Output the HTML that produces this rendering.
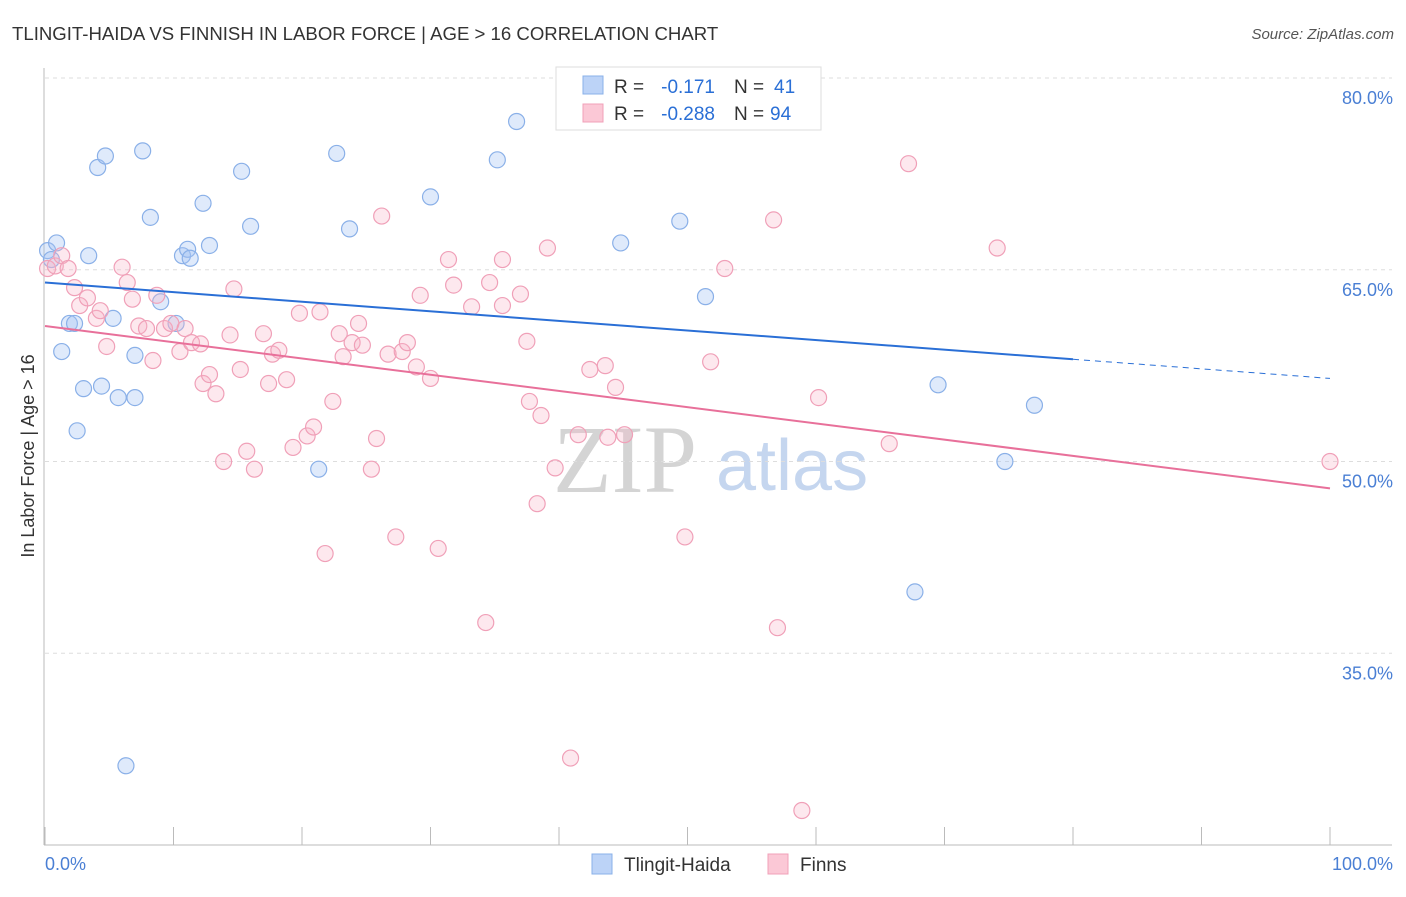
<!DOCTYPE html>
<html><head><meta charset="utf-8"><style>
body{margin:0;background:#fff;font-family:"Liberation Sans",sans-serif;}
</style></head><body>
<svg width="1406" height="892" xmlns="http://www.w3.org/2000/svg" font-family="Liberation Sans, sans-serif">
<text x="12" y="40" font-size="18.6" fill="#333">TLINGIT-HAIDA VS FINNISH IN LABOR FORCE | AGE &gt; 16 CORRELATION CHART</text>
<text x="1394" y="39" font-size="15" fill="#555" text-anchor="end" font-style="italic">Source: ZipAtlas.com</text>
<text x="553" y="492" font-size="96" fill="#d4d4d4" font-family="Liberation Serif, serif">ZIP</text>
<text x="716" y="490" font-size="72" fill="#c5d6ef">atlas</text>
<g id="grid"></g>
<g id="axes"></g>
<g id="pts"></g>
<g id="lines"></g>
<text transform="translate(34,456) rotate(-90)" font-size="18" fill="#333" text-anchor="middle">In Labor Force | Age &gt; 16</text>
<text x="45" y="870" font-size="18" fill="#4a7fd4">0.0%</text>
<text x="1393" y="870" font-size="18" fill="#4a7fd4" text-anchor="end">100.0%</text>
<g>
<rect x="556" y="67" width="265" height="63" fill="#fff" stroke="#ddd"/>
<rect x="583" y="76" width="20" height="18" fill="#bcd3f7" stroke="#8ab0e8"/>
<rect x="583" y="104" width="20" height="18" fill="#fbc8d6" stroke="#f0a0b8"/>
<text x="614" y="93" font-size="19" fill="#333">R =</text>
<text x="715" y="93" font-size="19" fill="#2a6fd6" text-anchor="end">-0.171</text>
<text x="734" y="93" font-size="19" fill="#333">N =</text>
<text x="774" y="93" font-size="19" fill="#2a6fd6">41</text>
<text x="614" y="120" font-size="19" fill="#333">R =</text>
<text x="715" y="120" font-size="19" fill="#2a6fd6" text-anchor="end">-0.288</text>
<text x="734" y="120" font-size="19" fill="#333">N =</text>
<text x="770" y="120" font-size="19" fill="#2a6fd6">94</text>
</g>
<g>
<rect x="592" y="854" width="20" height="20" fill="#bcd3f7" stroke="#8ab0e8"/>
<text x="624" y="871" font-size="19" fill="#333">Tlingit-Haida</text>
<rect x="768" y="854" width="20" height="20" fill="#fbc8d6" stroke="#f0a0b8"/>
<text x="800" y="871" font-size="19" fill="#333">Finns</text>
</g>
</svg>
<script>
const yTicks=[80,65,50,35];
const yTickLabels=["80.0%","65.0%","50.0%","35.0%"];
const xTicks=[0,10,20,30,40,50,60,70,80,90,100];
const blueX=[0.2,0.9,0.5,3.4,4.1,4.7,7.6,8.2,5.3,1.3,1.9,2.3,2.5,3.0,4.4,5.7,7.0,7.0,9.0,10.2,10.7,11.1,11.3,12.3,12.8,15.3,16.0,22.7,23.7,21.3,30.0,35.2,36.7,44.8,49.4,51.4,69.5,74.7,77.0,67.7,6.3];
const blueY=[66.5,67.1,65.8,66.1,73.0,73.9,74.3,69.1,61.2,58.6,60.8,60.8,52.4,55.7,55.9,55.0,55.0,58.3,62.5,60.8,66.1,66.6,65.9,70.2,66.9,72.7,68.4,74.1,68.2,49.4,70.7,73.6,76.6,67.1,68.8,62.9,56.0,50.0,54.4,39.8,26.2];
const pinkX=[0.2,0.8,1.3,1.8,2.3,2.7,3.3,4.0,4.3,4.8,6.0,6.4,6.8,7.3,7.9,8.4,8.7,9.3,9.8,10.5,10.9,11.4,12.1,12.3,12.8,13.3,13.9,14.4,14.7,15.2,15.7,16.3,17.0,17.4,17.7,18.2,18.8,19.3,19.8,20.4,20.9,21.4,21.8,22.4,22.9,23.2,23.9,24.4,24.7,25.4,25.8,26.2,26.7,27.3,27.8,28.2,28.9,29.2,30.0,30.6,31.4,31.8,33.2,34.3,34.6,35.6,35.6,37.0,37.5,37.7,38.6,39.1,38.3,39.7,40.9,41.5,42.4,43.6,43.8,44.4,45.1,49.8,51.8,52.9,56.7,57.0,58.9,60.2,65.7,67.2,74.1,100];
const pinkY=[65.1,65.3,66.1,65.1,63.6,62.2,62.8,61.2,61.8,59.0,65.2,64.0,62.7,60.6,60.4,57.9,63.0,60.4,60.8,58.6,60.4,59.3,59.2,56.1,56.8,55.3,50.0,59.9,63.5,57.2,50.8,49.4,60.0,56.1,58.4,58.7,56.4,51.1,61.6,52.0,52.7,61.7,42.8,54.7,60.0,58.2,59.3,60.8,59.1,49.4,51.8,69.2,58.4,44.1,58.6,59.3,57.4,63.0,56.5,43.2,65.8,63.8,62.1,37.4,64.0,65.8,62.2,63.1,59.4,54.7,53.6,66.7,46.7,49.5,26.8,52.1,57.2,57.5,51.9,55.8,52.1,44.1,57.8,65.1,68.9,37.0,22.7,55.0,51.4,73.3,66.7,50.0];
const blueFit=[64.0,-0.075];
const pinkFit=[60.6,-0.127];
const NS="http://www.w3.org/2000/svg";
const xs=v=>45+v*12.85, ys=v=>845-(v-20)*12.783;
function mk(p,t,a){const e=document.createElementNS(NS,t);for(const k in a)e.setAttribute(k,a[k]);p.appendChild(e);return e;}
const grid=document.getElementById('grid'),axes=document.getElementById('axes'),pts=document.getElementById('pts'),lines=document.getElementById('lines');
yTicks.forEach((t,i)=>{
 const l=mk(grid,'line',{x1:45,x2:1392,y1:ys(t),y2:ys(t),stroke:'#ddd','stroke-dasharray':'4,4'});
 
 
 const tx=mk(grid,'text',{x:1393,y:ys(t)+26,'font-size':18,fill:'#4a7fd4','text-anchor':'end'});
 tx.textContent=yTickLabels[i];
 
 
});
const ya=mk(axes,'line',{x1:44,x2:44,y1:68,y2:845,stroke:'#bbb'});


const xa=mk(axes,'line',{x1:44,x2:1392,y1:845,y2:845,stroke:'#bbb'});


xTicks.forEach(t=>{const k=mk(axes,'line',{x1:xs(t),x2:xs(t),y1:827,y2:845,stroke:'#bbb'});
 
 });
blueX.forEach((x,i)=>{const c=mk(pts,'circle',{cx:xs(x),cy:ys(blueY[i]),r:8,fill:'rgba(164,194,244,0.35)',stroke:'#8ab0e8','stroke-width':1.2});
 
 });
pinkX.forEach((x,i)=>{const c=mk(pts,'circle',{cx:xs(x),cy:ys(pinkY[i]),r:8,fill:'rgba(248,180,200,0.3)',stroke:'#f0a0b8','stroke-width':1.2});
 
 });
const f=(fit,x)=>fit[0]+fit[1]*x;
const b1=mk(lines,'line',{x1:xs(0),y1:ys(f(blueFit,0)),x2:xs(80),y2:ys(f(blueFit,80)),stroke:'#2a6fd6','stroke-width':2});


const b2=mk(lines,'line',{x1:xs(80),y1:ys(f(blueFit,80)),x2:xs(100),y2:ys(f(blueFit,100)),stroke:'#2a6fd6','stroke-width':1,'stroke-dasharray':'6,5'});


const p1=mk(lines,'line',{x1:xs(0),y1:ys(f(pinkFit,0)),x2:xs(100),y2:ys(f(pinkFit,100)),stroke:'#e8709a','stroke-width':2});


</script>
</body></html>
